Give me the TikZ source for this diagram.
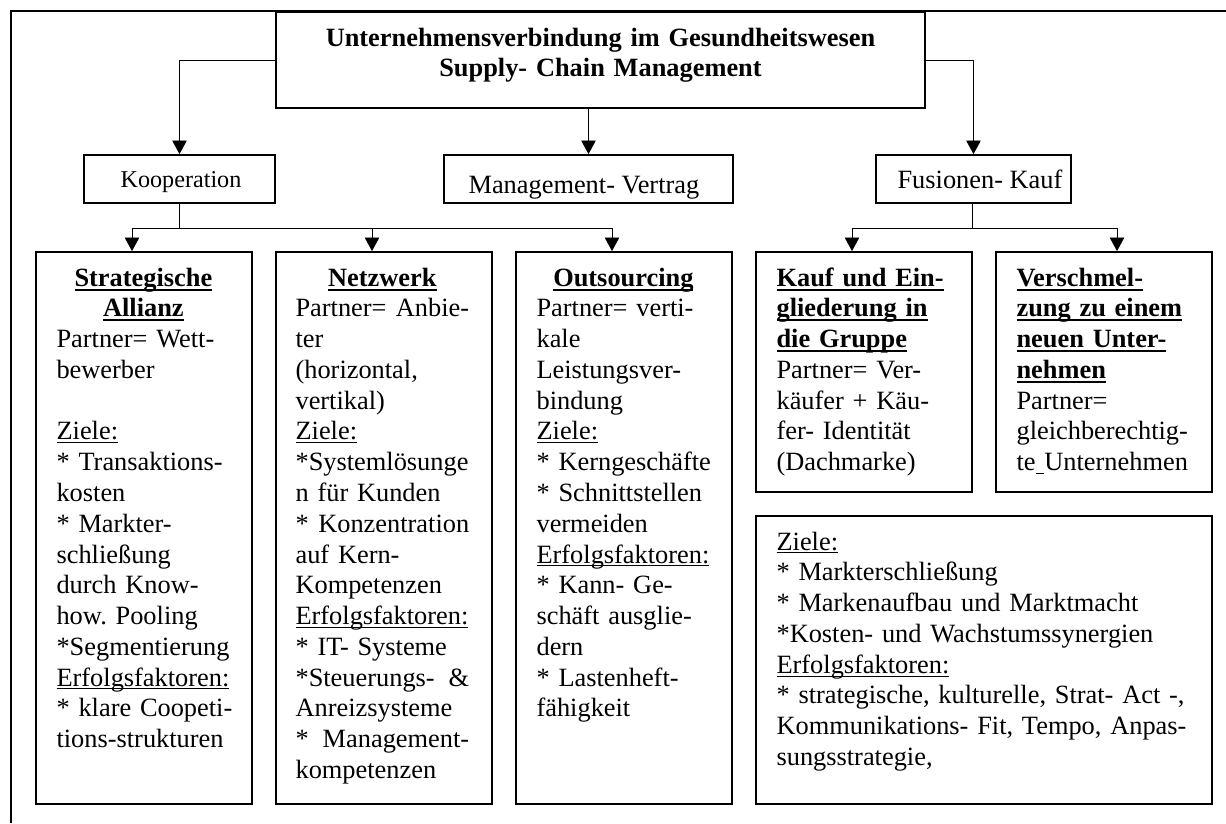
\documentclass[tikz,border=0pt]{standalone}
\usepackage{fontspec}
\setmainfont{Liberation Serif}
\usepackage{tikz}
\usetikzlibrary{calc,fit,positioning,arrows.meta}
\frenchspacing
\newcommand{\boxfont}{\fontsize{12}{14}\selectfont}
\newsavebox{\ulbox}
\newcommand{\ulwith}[3]{\sbox{\ulbox}{#3}\leavevmode\rlap{\rule[#1]{\wd\ulbox}{#2}}\usebox{\ulbox}}
\newcommand{\nul}[1]{\ulwith{-1.5pt}{0.45pt}{#1}}
\newcommand{\bul}[1]{\ulwith{-2pt}{0.9pt}{\bfseries #1}}
\newcommand{\headline}[1]{\makebox[79pt]{\bul{#1}}}

\begin{document}
\begin{tikzpicture}[x=0.455pt,y=-0.455pt]

\tikzset{catbox/.style={draw,line width=0.8pt,inner sep=0pt},
boxtext/.style={font=\boxfont,inner sep=0pt,anchor=base west,align=left,text width=86pt},
arr/.style={-{Triangle[width=6.6pt,length=6.2pt]},line width=0.45pt}}

\useasboundingbox (0,0) rectangle (1226,823);

% Frame
\draw[line width=0.6pt] (1226,11) -- (11,11) -- (11,823);

% Title
\node[catbox,line width=0.9pt,fit={(276,12) (925,108)}] (title) {};
\node[font=\bfseries\boxfont,inner sep=0pt,anchor=base,align=center,text width=280pt] (titleT) at ($(title.north)+(0,35)$) {Unternehmensverbindung im Gesundheitswesen\\Supply- Chain Management};

% Forms of connection
\node[catbox,fit={(84,155) (275,203)}] (koop) {};
\node[font=\fontsize{11}{13}\selectfont,inner sep=0pt,anchor=base west] (koopT) at ($(koop.north west)+(37,33)$) {Kooperation};
\node[catbox,fit={(444,155) (733,203)}] (mgmt) {};
\node[font=\boxfont,inner sep=0pt,anchor=base west] (mgmtT) at ($(mgmt.north west)+(25,39)$) {Management- Vertrag};
\node[catbox,fit={(876,155) (1071,203)}] (fusion) {};
\node[font=\boxfont,inner sep=0pt,anchor=base west] (fusionT) at ($(fusion.north west)+(22,34)$) {Fusionen- Kauf};

% Detail boxes
\node[catbox,fit={(36,252) (252,804)}] (allianz) {};
\node[catbox,fit={(276,252) (492,804)}] (netzwerk) {};
\node[catbox,fit={(516,252) (732,804)}] (outsrc) {};
\node[catbox,fit={(756,252) (972,492)}] (kauf) {};
\node[catbox,fit={(996,252) (1212,492)}] (verschm) {};
\node[catbox,fit={(756,516) (1212,804)}] (zielbox) {};

\node[boxtext] (allianzT) at ($(allianz.north west)+(21,35)$) {\headline{Strategische}\\
\headline{Allianz}\\
Partner= Wett-\\
bewerber\\
\mbox{}\\
\nul{Ziele:}\\
{*} Transaktions-\\
kosten\\
{*} Markter-\\
schließung\\
durch Know-\\
how. Pooling\\
{*}Segmentierung\\
\nul{Erfolgsfaktoren:}\\
{*} klare Coopeti-\\
tions-strukturen};

\node[boxtext,text width=79pt] (netzwerkT) at ($(netzwerk.north west)+(20,35)$) {\headline{Netzwerk}\\
Partner=\hfill Anbie-\\
ter\\
(horizontal,\\
vertikal)\\
\nul{Ziele:}\\
{*}Systemlösunge\\
n für Kunden\\
{*}\hfill Konzentration\\
auf Kern-\\
Kompetenzen\\
\nul{Erfolgsfaktoren:}\\
{*} IT- Systeme\\
{*}Steuerungs-\hfill\&\\
Anreizsysteme\\
{*}\hfill Management-\\
kompetenzen};

\node[boxtext] (outsrcT) at ($(outsrc.north west)+(21,35)$) {\headline{Outsourcing}\\
Partner= verti-\\
kale\\
Leistungsver-\\
bindung\\
\nul{Ziele:}\\
{*} Kerngeschäfte\\
{*} Schnittstellen\\
vermeiden\\
\nul{Erfolgsfaktoren:}\\
{*} Kann- Ge-\\
schäft ausglie-\\
dern\\
{*} Lastenheft-\\
fähigkeit};

\node[boxtext] (kaufT) at ($(kauf.north west)+(21,35)$) {\bul{Kauf und Ein-}\\
\bul{gliederung in}\\
\bul{die Gruppe}\\
Partner= Ver-\\
käufer + Käu-\\
fer- Identität\\
(Dachmarke)};

\node[boxtext] (verschmT) at ($(verschm.north west)+(21,35)$) {\bul{Verschmel-}\\
\bul{zung zu einem}\\
\bul{neuen Unter-}\\
\bul{nehmen}\\
Partner=\\
gleichberechtig-\\
te\nul{\ }Unternehmen};

\node[boxtext,text width=190pt] (zielT) at ($(zielbox.north west)+(21,35)$) {\nul{Ziele:}\\
{*} Markterschließung\\
{*} Markenaufbau und Marktmacht\\
{*}Kosten- und Wachstumssynergien\\
\nul{Erfolgsfaktoren:}\\
{*} strategische, kulturelle, Strat- Act -,\\
Kommunikations- Fit, Tempo, Anpas-\\
sungsstrategie,};

% Connectors
\draw[arr] (title.west) -| (koop.north);
\draw[arr] (title.south -| mgmt.north) -- (mgmt.north);
\draw[arr] (title.east) -| (fusion.north);

\coordinate (kjoin) at ($(koop.south)+(0,25)$);
\draw[line width=0.45pt] (koop.south) -- (kjoin);
\foreach \b in {allianz,netzwerk,outsrc} \draw[arr] (kjoin) -| ($(\b.north)+(-12,0)$);

\coordinate (fjoin) at ($(fusion.south)+(-1,25)$);
\draw[line width=0.45pt] (fusion.south -| fjoin) -- (fjoin);
\draw[arr] (fjoin) -| ($(kauf.north)+(-12,0)$);
\draw[arr] (fjoin) -| ($(verschm.north)+(13,0)$);

\end{tikzpicture}
\end{document}
